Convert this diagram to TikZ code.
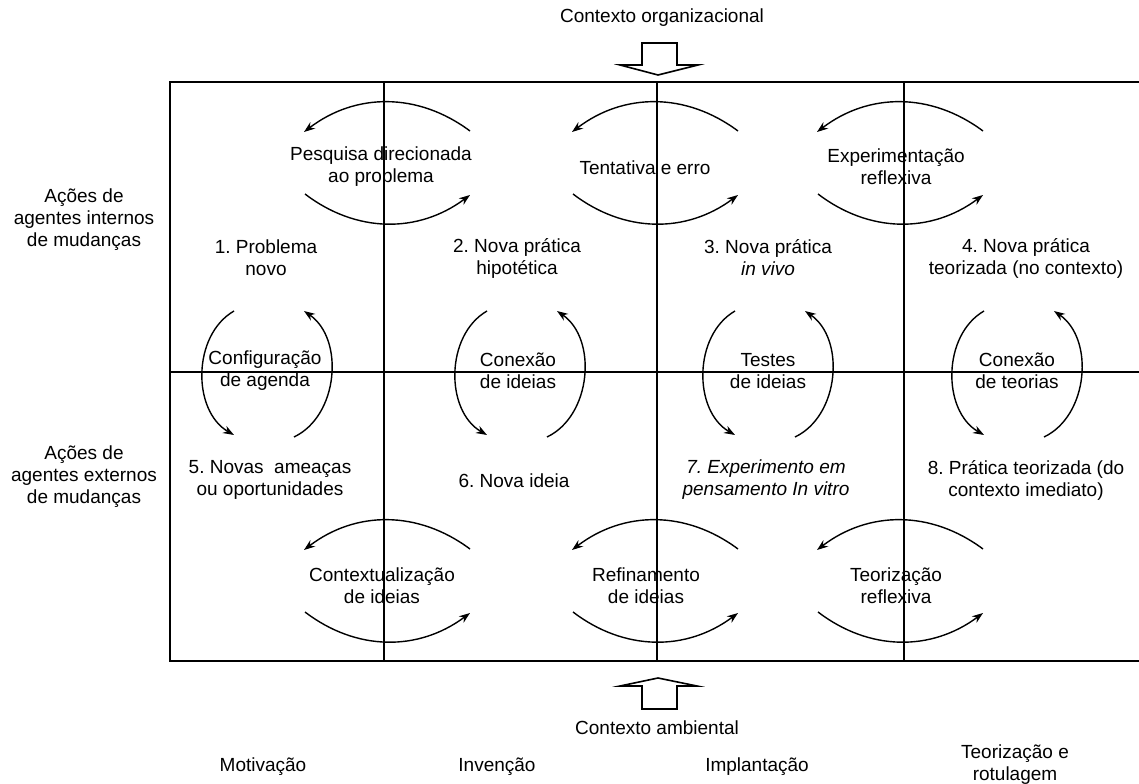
\documentclass[tikz,border=0pt]{standalone}
\usepackage{fontspec}
\setmainfont{Liberation Sans}
\usetikzlibrary{arrows.meta}
\frenchspacing

\begin{document}
\begin{tikzpicture}[x=0.5pt,y=0.5pt,
  every node/.style={align=center,inner sep=0pt,font=\fontsize{9.5}{11}\selectfont},
  ital/.style={font=\fontsize{9.5}{11}\selectfont\itshape},
  grid/.style={line width=0.9pt},
  cyc/.style={line width=0.7pt,-{Stealth[length=5.5pt,width=4pt]}},
  blockarrow/.style={line width=0.8pt,line join=miter}]
  \useasboundingbox (0,0) rectangle (1139,783);
  % frame (open on the right) and the grid
  \coordinate (NW) at (170,701); \coordinate (SW) at (170,122);
  \draw[grid] (1139,701) -- (NW) -- (SW) -- (1139,122);
  \draw[grid] (170,411) -- (1139,411);
  \draw[grid] (384,701) -- (384,122) (657,701) -- (657,122) (904,701) -- (904,122);
  % cycles lying on the column lines
  \coordinate (h1) at (386,620); \coordinate (h2) at (654,620); \coordinate (h3) at (899,620);
  \coordinate (h4) at (386,202); \coordinate (h5) at (654,202); \coordinate (h6) at (899,202);
  \draw[cyc,shift={(h1)}] (84,32) to[bend right=37] (-82,31);
  \draw[cyc,shift={(h1)}] (-81,-31) to[bend right=37] (84,-32);
  \draw[cyc,shift={(h2)}] (84,32) to[bend right=37] (-82,31);
  \draw[cyc,shift={(h2)}] (-81,-31) to[bend right=37] (84,-32);
  \draw[cyc,shift={(h3)}] (84,32) to[bend right=37] (-82,31);
  \draw[cyc,shift={(h3)}] (-81,-31) to[bend right=37] (84,-32);
  \draw[cyc,shift={(h4)}] (84,32) to[bend right=37] (-82,31);
  \draw[cyc,shift={(h4)}] (-81,-31) to[bend right=37] (84,-32);
  \draw[cyc,shift={(h5)}] (84,32) to[bend right=37] (-82,31);
  \draw[cyc,shift={(h5)}] (-81,-31) to[bend right=37] (84,-32);
  \draw[cyc,shift={(h6)}] (84,32) to[bend right=37] (-82,31);
  \draw[cyc,shift={(h6)}] (-81,-31) to[bend right=37] (84,-32);
  % cycles lying on the middle line
  \coordinate (v1) at (268,410); \coordinate (v2) at (521,410);
  \coordinate (v3) at (769,410); \coordinate (v4) at (1018,410);
  \draw[cyc,shift={(v1)}] (-34,62) to[bend right=60] (-34,-62);
  \draw[cyc,shift={(v1)}] (26,-64) to[bend right=60] (36,62);
  \draw[cyc,shift={(v2)}] (-34,62) to[bend right=60] (-34,-62);
  \draw[cyc,shift={(v2)}] (26,-64) to[bend right=60] (36,62);
  \draw[cyc,shift={(v3)}] (-34,62) to[bend right=60] (-34,-62);
  \draw[cyc,shift={(v3)}] (26,-64) to[bend right=60] (36,62);
  \draw[cyc,shift={(v4)}] (-34,62) to[bend right=60] (-34,-62);
  \draw[cyc,shift={(v4)}] (26,-64) to[bend right=60] (36,62);
  % cycle names
  \node (pesq) at (381,616) {Pesquisa direcionada\\ao problema};
  \node (tent) at (645,615) {Tentativa e erro};
  \node (expr) at (896,616) {Experimentação\\reflexiva};
  \node (ctxi) at (382,197) {Contextualização\\de ideias};
  \node (refi) at (646,197) {Refinamento\\de ideias};
  \node (teor) at (896,197) {Teorização\\reflexiva};
  \node (conf) at (265,412) {Configuração\\de agenda};
  \node (coni) at (518,412) {Conexão\\de ideias};
  \node (test) at (768,412) {Testes\\de ideias};
  \node (cont) at (1017,412) {Conexão\\de teorias};
  % the eight states
  \node (s1) at (266,525) {1. Problema\\novo};
  \node (s2) at (517,525) {2. Nova prática\\hipotética};
  \node (s3) at (768,525) {3. Nova prática\\\textit{in vivo}};
  \node (s4) at (1026,525) {4. Nova prática\\teorizada (no contexto)};
  \node (s5) at (270,303) {5. Novas~ ameaças\\ou oportunidades};
  \node (s6) at (514,302) {6. Nova ideia};
  \node[ital] (s7) at (766,303) {7. Experimento em\\pensamento In vitro};
  \node (s8) at (1026,303) {8. Prática teorizada (do\\contexto imediato)};
  % rows
  \node (int) at (84,563) {Ações de\\agentes internos\\de mudanças};
  \node (ext) at (84,306) {Ações de\\agentes externos\\de mudanças};
  % contexts
  \coordinate (ta) at (658,708);
  \draw[blockarrow] (642,740) -- (677,740) -- (677,718) -- (698,718) -- (ta) -- (620,718) -- (642,718) -- cycle;
  \node (org) at (662,765) {Contexto organizacional};
  \coordinate (ba) at (658,105);
  \draw[blockarrow] (642,74) -- (677,74) -- (677,97) -- (697,97) -- (ba) -- (620,97) -- (642,97) -- cycle;
  \node (amb) at (657,55) {Contexto ambiental};
  % phases
  \node (mot) at (263,16) {Motivação};
  \node (inv) at (497,16) {Invenção};
  \node (imp) at (757,16) {Implantação};
  \node (rot) at (1015,18) {Teorização e\\rotulagem};
\end{tikzpicture}
\end{document}
